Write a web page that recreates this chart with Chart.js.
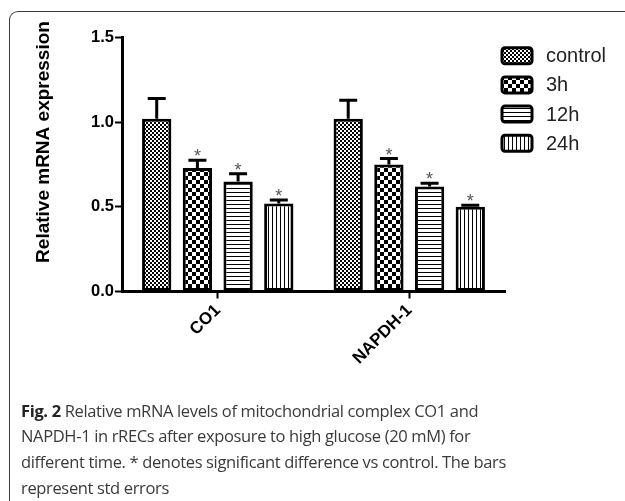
<!DOCTYPE html>
<html>
<head>
<meta charset="utf-8">
<script src="https://cdn.jsdelivr.net/npm/chart.js@4"></script>
<style>
  html, body { margin: 0; padding: 0; background: #fff; }
  #wrap { position: relative; width: 625px; height: 501px; overflow: hidden; }
  #frame { position: absolute; left: 9px; top: 11px; width: 700px; height: 600px;
           border-left: 1.5px solid #3a3a3a; border-top: 1.5px solid #3a3a3a; border-top-left-radius: 9px; }
  #chart { position: absolute; left: 0; top: 0; }
  #caption { position: absolute; left: 21px; top: 397.5px; width: 600px; white-space: nowrap;
             font-family: "Open Sans", sans-serif; font-size: 16.5px; line-height: 25.8px; color: #3a3a3a;
             letter-spacing: -0.35px; }
  #caption b { color: #222; }
</style>
</head>
<body>
<div id="wrap">
  <div id="frame"></div>
  <canvas id="chart" width="625" height="400"></canvas>
  <div id="caption"><b>Fig. 2</b> Relative mRNA levels of mitochondrial complex CO1 and<br>NAPDH-1 in rRECs after exposure to high glucose (20 mM) for<br>different time. * denotes significant difference vs control. The bars<br>represent std errors</div>
</div>
<script>
// chart values
const categories = ['CO1', 'NAPDH-1'];
const seriesNames = ['control', '3h', '12h', '24h'];
const controlMeans = [1.02, 1.02];
const h3Means = [0.73, 0.75];
const h12Means = [0.65, 0.62];
const h24Means = [0.52, 0.50];
const controlErrors = [0.12, 0.11];
const h3Errors = [0.045, 0.035];
const h12Errors = [0.045, 0.02];
const h24Errors = [0.02, 0.01];
const significant = [false, true, true, true];
const yTicks = [0, 0.5, 1.0, 1.5];
const yTitle = 'Relative mRNA expression';

const AXIS_FONT = 'Liberation Sans';

// fill patterns for the black and white bars
function makePattern(kind) {
  const c = document.createElement('canvas');
  const size = kind === 'checkBig' ? 8 : 4;
  c.width = size; c.height = size;
  const g = c.getContext('2d');
  g.fillStyle = '#fff';
  g.fillRect(0, 0, size, size);
  g.fillStyle = '#000';
  if (kind === 'checkSmall') {
    g.fillRect(0, 0, 2, 2); g.fillRect(2, 2, 2, 2);
  } else if (kind === 'checkBig') {
    g.fillRect(0, 0, 4, 4); g.fillRect(4, 4, 4, 4);
  } else if (kind === 'hlines') {
    g.fillRect(0, 0, size, 1);
  } else if (kind === 'vlines') {
    g.fillRect(0, 0, 1, size);
  }
  return g.createPattern(c, 'repeat');
}

const patterns = [makePattern('checkSmall'), makePattern('checkBig'), makePattern('hlines'), makePattern('vlines')];
const meansList = [controlMeans, h3Means, h12Means, h24Means];
const errorsList = [controlErrors, h3Errors, h12Errors, h24Errors];

const datasets = seriesNames.map((name, i) => ({
  label: name,
  data: meansList[i],
  errors: errorsList[i],
  significant: significant[i],
  backgroundColor: patterns[i],
  borderColor: '#000',
  borderWidth: 3,
  borderSkipped: false,
  categoryPercentage: 0.85,
  barPercentage: 0.72
}));

// upper error bars and asterisks
const errorBarPlugin = {
  id: 'errorBars',
  afterDatasetsDraw(chart) {
    const ctx = chart.ctx;
    const y = chart.scales.y;
    chart.data.datasets.forEach((ds, i) => {
      const meta = chart.getDatasetMeta(i);
      meta.data.forEach((bar, j) => {
        const top = y.getPixelForValue(ds.data[j] + ds.errors[j]);
        const x = bar.x;
        ctx.save();
        ctx.strokeStyle = '#000';
        ctx.lineWidth = 3;
        ctx.beginPath();
        ctx.moveTo(x, bar.y);
        ctx.lineTo(x, top);
        ctx.moveTo(x - 9, top);
        ctx.lineTo(x + 9, top);
        ctx.stroke();
        if (ds.significant) {
          ctx.fillStyle = '#555';
          ctx.font = '18px ' + AXIS_FONT;
          ctx.textAlign = 'center';
          ctx.textBaseline = 'alphabetic';
          ctx.fillText('*', x, top + 2);
        }
        ctx.restore();
      });
    });
  }
};

// y axis title, placed a bit above the axis centre as in the figure
const yTitlePlugin = {
  id: 'yTitle',
  afterDraw(chart) {
    const ctx = chart.ctx;
    ctx.save();
    ctx.translate(44, 142);
    ctx.rotate(-Math.PI / 2);
    ctx.fillStyle = '#000';
    ctx.font = 'bold 19px ' + AXIS_FONT;
    ctx.textAlign = 'center';
    ctx.textBaseline = 'middle';
    ctx.fillText(yTitle, 0, 0);
    ctx.restore();
  }
};

// legend on the right with patterned boxes
const patternLegendPlugin = {
  id: 'patternLegend',
  afterDraw(chart) {
    const ctx = chart.ctx;
    const boxX = 502, boxW = 30, boxH = 16, textX = 546;
    const firstY = 55.7, stepY = 29.2;
    chart.data.datasets.forEach((ds, i) => {
      const cy = firstY + i * stepY;
      ctx.save();
      ctx.beginPath();
      ctx.roundRect(boxX, cy - boxH / 2, boxW, boxH, 3);
      ctx.fillStyle = ds.backgroundColor;
      ctx.fill();
      ctx.lineWidth = 3;
      ctx.strokeStyle = '#000';
      ctx.stroke();
      ctx.fillStyle = '#222';
      ctx.font = '20px ' + AXIS_FONT;
      ctx.textAlign = 'left';
      ctx.textBaseline = 'middle';
      ctx.fillText(ds.label, textX, cy + 1);
      ctx.restore();
    });
  }
};

new Chart(document.getElementById('chart'), {
  type: 'bar',
  data: { labels: categories, datasets: datasets },
  options: {
    responsive: false,
    animation: false,
    layout: { padding: { left: 10, right: 120, top: 37.5, bottom: 0 } },
    plugins: { legend: { display: false }, tooltip: { enabled: false } },
    scales: {
      x: {
        offset: true,
        grid: { drawOnChartArea: false, offset: false, tickLength: 7, tickWidth: 2, color: '#000' },
        border: { display: true, width: 3, color: '#000' },
        ticks: {
          minRotation: 45, maxRotation: 45, color: '#000', padding: 2,
          font: { family: AXIS_FONT, weight: 'bold', size: 17 }
        },
        afterFit: (s) => { s.height = 108.5; }
      },
      y: {
        min: 0, max: 1.5,
        afterBuildTicks: (s) => { s.ticks = yTicks.map(v => ({ value: v })); },
        grid: { drawOnChartArea: false, tickLength: 7, tickWidth: 2, color: '#000' },
        border: { display: true, width: 3, color: '#000' },
        ticks: {
          color: '#000', padding: 1,
          font: { family: AXIS_FONT, weight: 'bold', size: 16.5 },
          callback: (v) => Number(v).toFixed(1)
        },
        afterFit: (s) => { s.width = 112; }
      }
    }
  },
  plugins: [errorBarPlugin, yTitlePlugin, patternLegendPlugin]
});
</script>
</body>
</html>
